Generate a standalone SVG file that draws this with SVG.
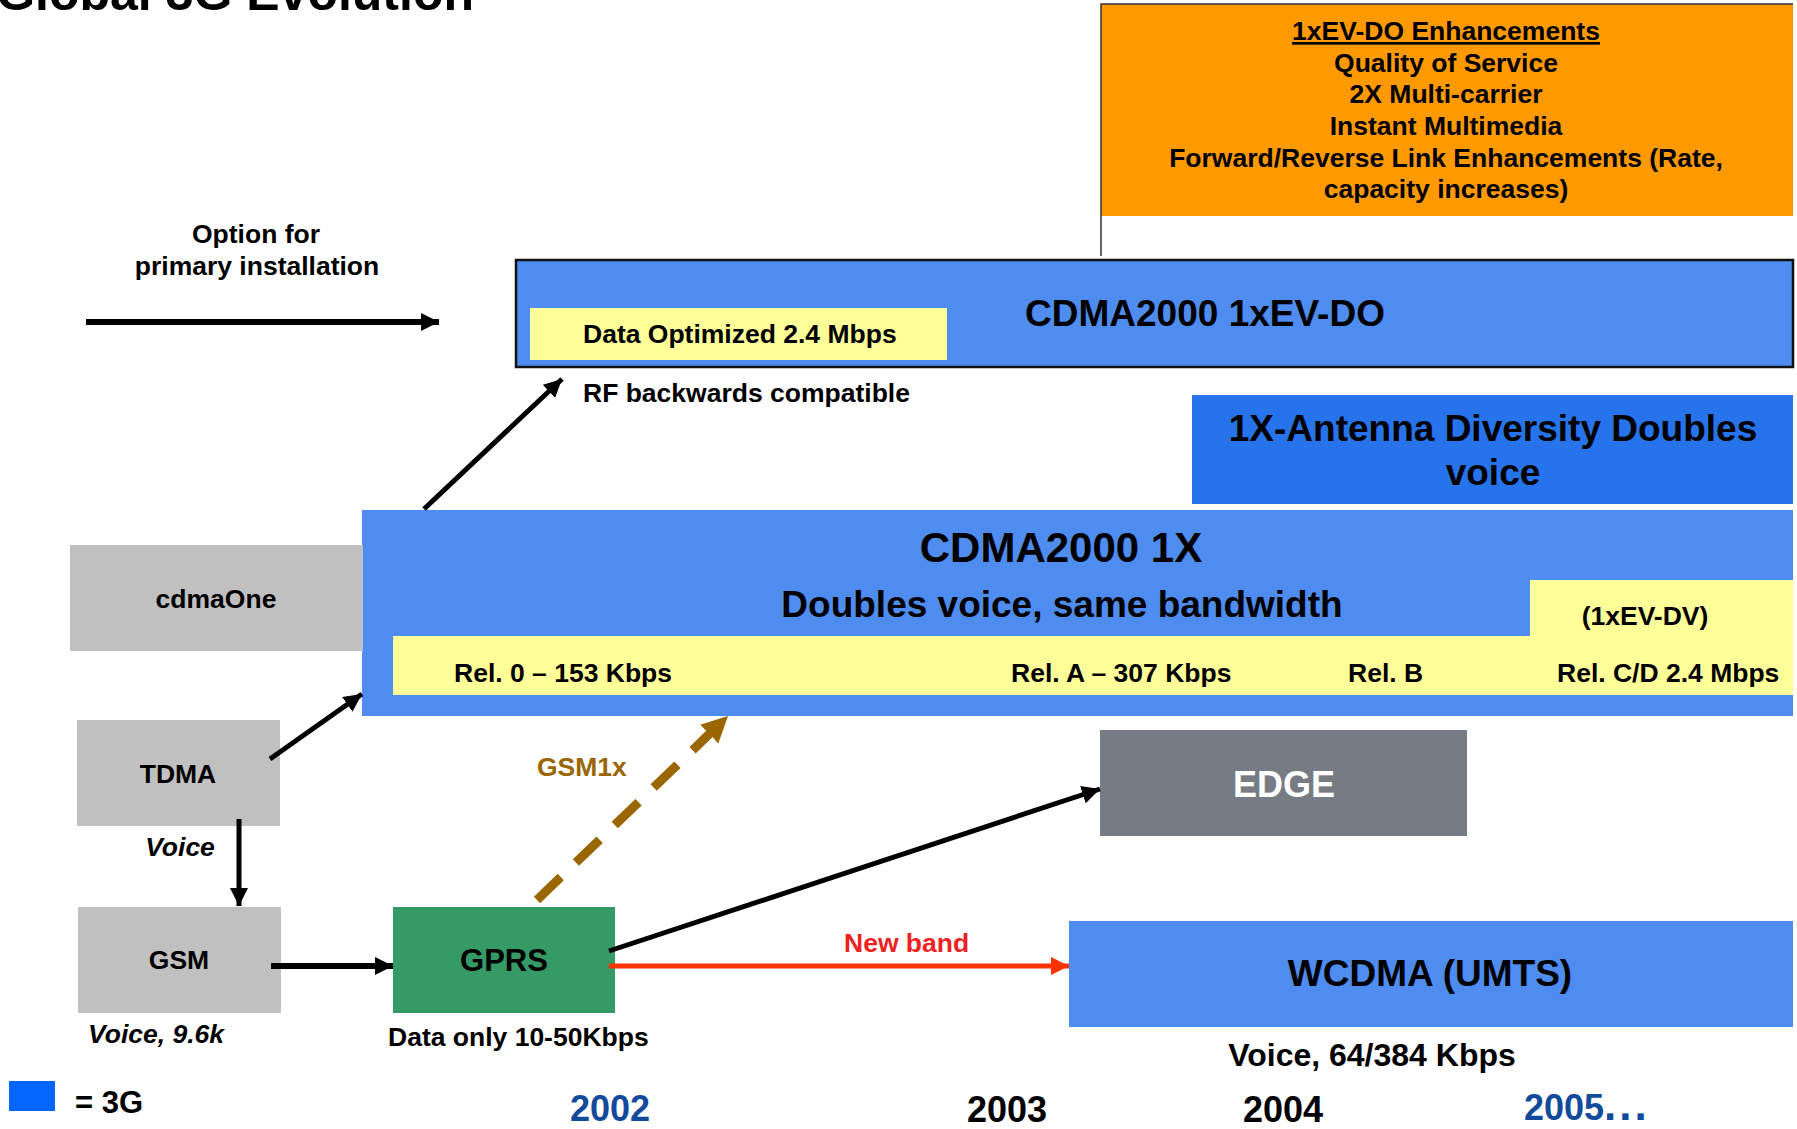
<svg xmlns="http://www.w3.org/2000/svg" width="1797" height="1129" viewBox="0 0 1797 1129">
<defs>
<style>
text{font-family:"Liberation Sans",Arial,Helvetica,sans-serif;font-weight:bold;fill:#000}
.s26{font-size:26.5px}
.c{text-anchor:middle}
.it{font-style:italic}
.blue{fill:#4f8cf0}
.gray{fill:#c0c0c0}
.yel{fill:#ffff99}
.yr{font-size:36px}
.conn{fill:none;stroke:#000;stroke-width:5}
</style>
<marker id="ah" markerUnits="userSpaceOnUse" markerWidth="20" markerHeight="20" refX="18" refY="9" orient="auto" viewBox="0 0 20 20">
<path d="M0,0 L18,9 L0,18 z" fill="#000"/>
</marker>
<marker id="ahr" markerUnits="userSpaceOnUse" markerWidth="20" markerHeight="20" refX="18" refY="9" orient="auto" viewBox="0 0 20 20">
<path d="M0,0 L18,9 L0,18 z" fill="#ff3300"/>
</marker>
<marker id="ahb" markerUnits="userSpaceOnUse" markerWidth="30" markerHeight="30" refX="26" refY="13" orient="auto" viewBox="0 0 30 30">
<path d="M0,0 L26,13 L0,26 z" fill="#996600"/>
</marker>
</defs>
<rect width="1797" height="1129" fill="#fff"/>

<text x="474" y="10" style="font-size:50px;text-anchor:end">Global 3G Evolution</text>

<g id="legend-option">
<text class="s26 c" x="256" y="243">Option for</text>
<text class="s26 c" x="257" y="275">primary installation</text>
</g>

<g id="evdo-enhancements">
<rect x="1101" y="4" width="692" height="212" fill="#ff9900"/>
<path d="M1101,256 V4 H1793" fill="none" stroke="#333" stroke-width="1.5"/>
<text class="s26 c" x="1446" y="40" text-decoration="underline" style="text-decoration:underline">1xEV-DO Enhancements</text>
<text class="s26 c" x="1446" y="72">Quality of Service</text>
<text class="s26 c" x="1446" y="103">2X Multi-carrier</text>
<text class="s26 c" x="1446" y="135">Instant Multimedia</text>
<text class="s26 c" x="1446" y="167">Forward/Reverse Link Enhancements (Rate,</text>
<text class="s26 c" x="1446" y="198">capacity increases)</text>
</g>

<g id="cdma2000-1xevdo">
<rect x="516" y="260" width="1277" height="107" class="blue" stroke="#111" stroke-width="2.5"/>
<rect x="530" y="308" width="417" height="52" class="yel"/>
<text class="s26" x="583" y="343">Data Optimized 2.4 Mbps</text>
<text class="c" x="1205" y="326" style="font-size:37px">CDMA2000 1xEV-DO</text>
</g>
<text class="s26" x="583" y="402">RF backwards compatible</text>

<g id="antenna-diversity">
<rect x="1192" y="395" width="601" height="109" fill="#2673ec"/>
<text class="c" x="1493" y="441" style="font-size:37px">1X-Antenna Diversity Doubles</text>
<text class="c" x="1493" y="485" style="font-size:37px">voice</text>
</g>

<g id="cdma2000-1x">
<rect x="362" y="510" width="1431" height="206" class="blue"/>
<rect x="393" y="636" width="1400" height="59" class="yel"/>
<rect x="1530" y="580" width="263" height="115" class="yel"/>
<text class="c" x="1061" y="562" style="font-size:42px">CDMA2000 1X</text>
<text class="c" x="1062" y="617" style="font-size:37px">Doubles voice, same bandwidth</text>
<text class="s26 c" x="1645" y="625">(1xEV-DV)</text>
<text class="s26" x="454" y="682">Rel. 0 – 153 Kbps</text>
<text class="s26" x="1011" y="682">Rel. A – 307 Kbps</text>
<text class="s26" x="1348" y="682">Rel. B</text>
<text class="s26" x="1557" y="682">Rel. C/D 2.4 Mbps</text>
</g>

<g id="cdmaone">
<rect x="70" y="545" width="293" height="106" class="gray"/>
<text class="s26 c" x="216" y="608">cdmaOne</text>
</g>

<g id="tdma">
<rect x="77" y="720" width="203" height="106" class="gray"/>
<text class="s26 c" x="178" y="783">TDMA</text>
</g>
<text class="s26 c it" x="180" y="856">Voice</text>

<g id="gsm">
<rect x="78" y="907" width="203" height="106" class="gray"/>
<text class="s26 c" x="179" y="969">GSM</text>
</g>
<text class="s26 it" x="88" y="1043">Voice, 9.6k</text>

<g id="gprs">
<rect x="393" y="907" width="222" height="106" fill="#359a66"/>
<text class="c" x="504" y="971" style="font-size:31px">GPRS</text>
</g>
<text class="s26" x="388" y="1046">Data only 10-50Kbps</text>

<g id="edge">
<rect x="1100" y="730" width="367" height="106" fill="#777c84"/>
<text class="c" x="1284" y="797" style="font-size:36px;fill:#fff">EDGE</text>
</g>

<g id="wcdma">
<rect x="1069" y="921" width="724" height="106" class="blue"/>
<text class="c" x="1430" y="986" style="font-size:37px">WCDMA (UMTS)</text>
</g>
<text class="c" x="1372" y="1066" style="font-size:32px">Voice, 64/384 Kbps</text>

<g id="legend-3g">
<rect x="9" y="1081" width="46" height="30" fill="#0066ff"/>
<text x="75" y="1113" style="font-size:31px">= 3G</text>
</g>

<g id="years">
<text class="yr c" x="610" y="1121" style="fill:#124a9c">2002</text>
<text class="yr c" x="1007" y="1122">2003</text>
<text class="yr c" x="1283" y="1122">2004</text>
<text class="yr" x="1524" y="1120" style="fill:#124a9c">2005<tspan style="font-size:44px" letter-spacing="3">...</tspan></text>
</g>

<g id="connectors">
<line x1="86" y1="322" x2="439" y2="322" class="conn" style="stroke-width:6" marker-end="url(#ah)"/>
<line x1="424" y1="509" x2="562" y2="379" class="conn" marker-end="url(#ah)"/>
<line x1="270" y1="759" x2="362" y2="694" class="conn" marker-end="url(#ah)"/>
<line x1="239" y1="819" x2="239" y2="906" class="conn" marker-end="url(#ah)"/>
<line x1="271" y1="966" x2="393" y2="966" class="conn" style="stroke-width:6" marker-end="url(#ah)"/>
<line x1="537" y1="900" x2="728" y2="716" fill="none" stroke="#996600" stroke-width="9" stroke-dasharray="33,21" marker-end="url(#ahb)"/>
<line x1="609" y1="951" x2="1100" y2="789" class="conn" marker-end="url(#ah)"/>
<line x1="609" y1="966" x2="1069" y2="966" fill="none" stroke="#ff3300" stroke-width="5" marker-end="url(#ahr)"/>
<text class="s26" x="537" y="776" style="fill:#996600">GSM1x</text>
<text class="s26" x="844" y="952" style="fill:#ee2222">New band</text>
</g>
</svg>
